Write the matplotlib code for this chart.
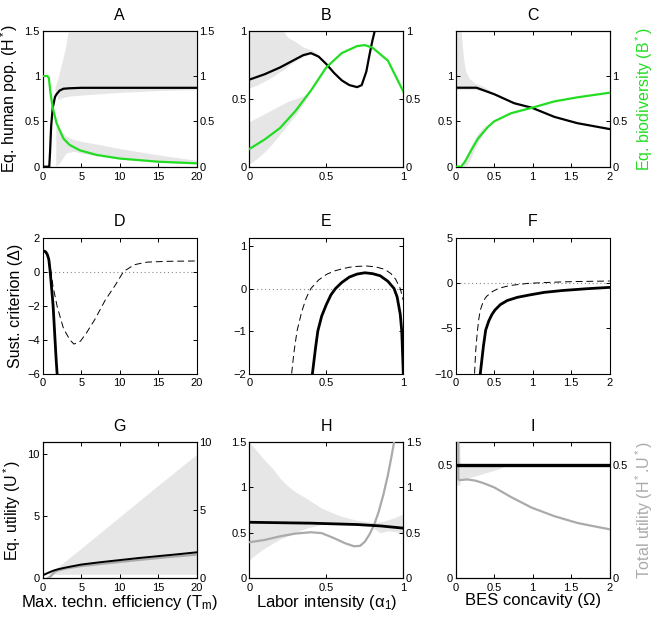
import matplotlib
matplotlib.use("Agg")
import matplotlib.pyplot as plt

plt.rcParams['font.family'] = ['Liberation Sans', 'DejaVu Sans']
plt.rcParams['mathtext.fontset'] = 'custom'
plt.rcParams['mathtext.rm'] = 'Liberation Sans'
plt.rcParams['mathtext.it'] = 'Liberation Sans:italic'

GREEN = '#22dd22'
GREYL = '#aaaaaa'
FILL = '#e6e6e6'

# ---------------- Panel A ----------------
A_H_x = [0, 0.5, 0.85, 0.95, 1.1, 1.3, 1.6, 1.8, 2.2, 2.7, 3.5, 5, 10, 15, 20]
A_H_y = [0, 0, 0, 0.15, 0.45, 0.65, 0.77, 0.8, 0.84, 0.86, 0.865, 0.87, 0.87, 0.87, 0.87]
A_B_x = [0, 0.6, 0.8, 1.0, 1.3, 1.8, 2.7, 3.5, 4.85, 7, 10, 15, 20]
A_B_y = [1, 1, 0.98, 0.82, 0.65, 0.48, 0.31, 0.24, 0.18, 0.13, 0.09, 0.055, 0.037]
A_bandH_x = [1.6, 2.0, 2.5, 3.0, 3.5, 5, 10, 15, 20]
A_bandH_lo = [0.85, 0.74, 0.76, 0.77, 0.78, 0.79, 0.82, 0.84, 0.85]
A_bandH_hi = [0.88, 0.98, 1.15, 1.33, 1.6, 1.6, 1.6, 1.6, 1.6]
A_bandB_x = [1.7, 2.0, 2.5, 3.0, 4.0, 5.0, 7.0, 10.0, 15.0, 20.0]
A_bandB_lo = [0.0, 0.02, 0.08, 0.15, 0.17, 0.15, 0.12, 0.085, 0.05, 0.035]
A_bandB_hi = [0.45, 0.42, 0.38, 0.34, 0.3, 0.28, 0.25, 0.2, 0.13, 0.07]

# ---------------- Panel B ----------------
B_H_x = [0, 0.1, 0.2, 0.3, 0.35, 0.4, 0.45, 0.5, 0.55, 0.6, 0.65, 0.7, 0.73, 0.76, 0.78, 0.8, 0.815, 0.83]
B_H_y = [0.64, 0.68, 0.73, 0.79, 0.82, 0.835, 0.81, 0.755, 0.69, 0.635, 0.6, 0.585, 0.6, 0.7, 0.82, 0.93, 1.0, 1.07]
B_B_x = [0, 0.1, 0.2, 0.3, 0.4, 0.5, 0.6, 0.7, 0.75, 0.8, 0.9, 1.0]
B_B_y = [0.13, 0.2, 0.285, 0.41, 0.56, 0.73, 0.835, 0.887, 0.894, 0.875, 0.78, 0.553]
B_bandH_x = [0, 0.05, 0.1, 0.15, 0.2, 0.22, 0.25, 0.3, 0.35, 0.4, 0.45]
B_bandH_lo = [0.58, 0.6, 0.63, 0.66, 0.7, 0.71, 0.74, 0.78, 0.81, 0.83, 0.83]
B_bandH_hi = [1.0, 1.0, 1.0, 1.0, 1.0, 1.0, 0.95, 0.92, 0.88, 0.86, 0.83]
B_bandB_x = [0, 0.05, 0.1, 0.15, 0.2, 0.25, 0.3, 0.35, 0.38]
B_bandB_lo = [0.02, 0.06, 0.11, 0.17, 0.24, 0.31, 0.38, 0.46, 0.52]
B_bandB_hi = [0.33, 0.36, 0.39, 0.42, 0.45, 0.48, 0.5, 0.52, 0.54]

# ---------------- Panel C ----------------
C_H_x = [0, 0.27, 0.5, 0.76, 0.99, 1.28, 1.58, 2.0]
C_H_y = [0.871, 0.871, 0.80, 0.70, 0.65, 0.55, 0.48, 0.415]
C_B_x = [0, 0.07, 0.12, 0.2, 0.29, 0.42, 0.5, 0.72, 0.99, 1.28, 1.58, 2.0]
C_B_y = [0, 0, 0.055, 0.18, 0.31, 0.44, 0.5, 0.59, 0.65, 0.72, 0.765, 0.816]
C_bandH_x = [0, 0.07, 0.1, 0.13, 0.18, 0.25, 0.35, 0.45]
C_bandH_lo = [0.85, 0.85, 0.85, 0.85, 0.85, 0.85, 0.84, 0.82]
C_bandH_hi = [1.5, 1.5, 1.2, 1.05, 0.97, 0.92, 0.89, 0.84]
C_bandB_x = [0.1, 0.15, 0.2, 0.25, 0.3, 0.35, 0.4]
C_bandB_lo = [0, 0.02, 0.1, 0.2, 0.28, 0.36, 0.42]
C_bandB_hi = [0.05, 0.13, 0.23, 0.31, 0.38, 0.43, 0.46]

# ---------------- Panel D ----------------
D_s_x = [0, 0.2, 0.4, 0.6, 0.8, 0.97, 1.2, 1.35, 1.6, 1.75, 1.9]
D_s_y = [1.2, 1.2, 1.15, 1.0, 0.7, 0.0, -1.2, -2.0, -4.0, -5.2, -6.2]
D_d_x = [0, 0.4, 0.8, 1.0, 1.35, 1.9, 2.7, 3.5, 4.05, 4.9, 5.7, 6.8, 8.1, 9.5, 10.5, 11.9, 13.5, 16.2, 20]
D_d_y = [1.2, 1.15, 0.7, 0.2, -0.9, -2.1, -3.35, -4.0, -4.27, -4.1, -3.6, -2.8, -1.7, -0.75, 0, 0.4, 0.55, 0.6, 0.62]

# ---------------- Panel E ----------------
E_s_x = [0.41, 0.43, 0.445, 0.47, 0.5, 0.53, 0.56, 0.6, 0.65, 0.7, 0.75, 0.8, 0.85, 0.9, 0.94, 0.96, 0.98, 0.99, 1.0]
E_s_y = [-2, -1.4, -1.0, -0.65, -0.38, -0.15, 0.0, 0.14, 0.27, 0.34, 0.37, 0.35, 0.3, 0.17, 0.0, -0.2, -0.6, -1.0, -2.0]
E_d_x = [0.275, 0.29, 0.31, 0.34, 0.37, 0.4, 0.45, 0.5, 0.55, 0.6, 0.65, 0.7, 0.76, 0.82, 0.88, 0.92, 0.95, 0.98, 1.0]
E_d_y = [-2, -1.5, -1.0, -0.55, -0.22, 0.0, 0.2, 0.33, 0.41, 0.46, 0.5, 0.52, 0.53, 0.51, 0.45, 0.35, 0.22, 0.0, -0.28]

# ---------------- Panel F ----------------
F_s_x = [0.32, 0.34, 0.36, 0.39, 0.43, 0.47, 0.51, 0.58, 0.67, 0.8, 0.95, 1.15, 1.38, 1.7, 2.0]
F_s_y = [-10, -8.5, -7.0, -5.2, -4.2, -3.5, -3.0, -2.4, -1.95, -1.6, -1.35, -1.05, -0.85, -0.65, -0.5]
F_d_x = [0.245, 0.26, 0.28, 0.3, 0.32, 0.36, 0.4, 0.48, 0.56, 0.7, 0.95, 1.3, 1.6, 2.0]
F_d_y = [-10, -7.5, -5.5, -4.0, -3.0, -2.0, -1.5, -0.95, -0.6, -0.3, -0.05, 0.08, 0.15, 0.2]

# ---------------- Panel G ----------------
G_U_x = [0, 0.5, 1, 1.5, 2, 3, 5, 7.5, 10, 12.5, 15, 17.5, 20]
G_U_y = [0.22, 0.36, 0.5, 0.62, 0.71, 0.85, 1.09, 1.28, 1.45, 1.62, 1.77, 1.92, 2.08]
G_T_x = [0.7, 1.0, 1.3, 1.6, 2, 3, 5, 7.5, 10, 12.5, 15, 17.5, 20]
G_T_y = [0, 0.1, 0.3, 0.45, 0.56, 0.7, 0.88, 1.03, 1.18, 1.33, 1.47, 1.6, 1.72]
G_band_x = [0.8, 2, 5, 10, 15, 20]
G_band_lo = [0.3, 0.3, 0.3, 0.3, 0.3, 0.3]
G_band_hi = [0.5, 0.9, 2.4, 4.95, 7.5, 10.0]

# ---------------- Panel H ----------------
H_U_x = [0, 0.2, 0.4, 0.5, 0.7, 0.85, 1.0]
H_U_y = [0.615, 0.61, 0.605, 0.6, 0.59, 0.575, 0.55]
H_T_x = [0, 0.1, 0.2, 0.3, 0.4, 0.47, 0.55, 0.62, 0.68, 0.72, 0.75, 0.78, 0.81, 0.84, 0.87, 0.9, 0.925, 0.94]
H_T_y = [0.395, 0.42, 0.46, 0.49, 0.505, 0.495, 0.44, 0.385, 0.35, 0.355, 0.40, 0.48, 0.585, 0.73, 0.915, 1.135, 1.355, 1.5]
H_band_x = [0, 0.05, 0.1, 0.15, 0.2, 0.26, 0.3, 0.37, 0.47, 0.58, 0.69, 0.79, 0.85, 0.9, 0.95, 1.0]
H_band_lo = [0.2, 0.27, 0.33, 0.38, 0.43, 0.47, 0.5, 0.55, 0.59, 0.59, 0.58, 0.57, 0.5, 0.52, 0.51, 0.5]
H_band_hi = [1.5, 1.4, 1.3, 1.21, 1.1, 1.0, 0.95, 0.88, 0.77, 0.69, 0.64, 0.615, 0.62, 0.64, 0.67, 0.71]

# ---------------- Panel I ----------------
I_U_x = [0, 2]
I_U_y = [0.5, 0.5]
I_T_x = [0.034, 0.034, 0.06, 0.15, 0.25, 0.35, 0.5, 0.72, 0.99, 1.28, 1.58, 1.8, 2.0]
I_T_y = [0.6, 0.435, 0.432, 0.435, 0.43, 0.42, 0.40, 0.357, 0.31, 0.273, 0.243, 0.228, 0.215]
I_band_x = [0, 0.05, 0.06, 0.15, 0.3, 0.5, 0.7]
I_band_lo = [0.41, 0.41, 0.43, 0.44, 0.455, 0.475, 0.5]
I_band_hi = [0.6, 0.6, 0.5, 0.5, 0.5, 0.5, 0.5]

fig = plt.figure(figsize=(6.63, 6.19), dpi=100)

W, Hh = 0.2323, 0.2197
lefts = [0.0644, 0.376, 0.6873]
bottoms = [0.7307, 0.3966, 0.0662]

TICK = 8
YLAB = 11.5
XLAB = 12
TIT = 11.5


def style(ax, right=True, top=True):
    ax.tick_params(direction='in', length=3, width=0.7, labelsize=TICK, pad=2,
                   top=top, right=right)
    ax.tick_params(axis='x', pad=3.5)
    for s in ax.spines.values():
        s.set_linewidth(0.8)


def make(row, col):
    ax = fig.add_axes([lefts[col], bottoms[row], W, Hh])
    return ax


titles = [['A', 'B', 'C'], ['D', 'E', 'F'], ['G', 'H', 'I']]

# Row 1
axA = make(0, 0)
axB = make(0, 1)
axC = make(0, 2)
row1 = [
    (axA, A_H_x, A_H_y, A_B_x, A_B_y, (A_bandH_x, A_bandH_lo, A_bandH_hi),
     (A_bandB_x, A_bandB_lo, A_bandB_hi), (0, 20), [0, 5, 10, 15, 20], (0, 1.5), [0, 0.5, 1, 1.5]),
    (axB, B_H_x, B_H_y, B_B_x, B_B_y, (B_bandH_x, B_bandH_lo, B_bandH_hi),
     (B_bandB_x, B_bandB_lo, B_bandB_hi), (0, 1), [0, 0.5, 1], (0, 1), [0, 0.5, 1]),
    (axC, C_H_x, C_H_y, C_B_x, C_B_y, (C_bandH_x, C_bandH_lo, C_bandH_hi),
     (C_bandB_x, C_bandB_lo, C_bandB_hi), (0, 2), [0, 0.5, 1, 1.5, 2], (0, 1.5), [0, 0.5, 1]),
]
for i, (ax, hx, hy, bx, by, bh, bb, xl, xt, yl, yt) in enumerate(row1):
    ax.fill_between(bh[0], bh[1], bh[2], color=FILL, lw=0, zorder=3 if i == 0 else 1)
    ax.fill_between(bb[0], bb[1], bb[2], color=FILL, lw=0, zorder=1)
    ax.plot(hx, hy, color='black', lw=1.6, zorder=4)
    ax.set_xlim(*xl); ax.set_ylim(*yl)
    ax.set_xticks(xt); ax.set_yticks(yt)
    ax.set_xticklabels([f'{v:g}' for v in xt])
    ax.set_yticklabels([f'{v:g}' for v in yt])
    style(ax, right=False)
    ax2 = ax.twinx()
    ax2.plot(bx, by, color=GREEN, lw=1.6, zorder=4)
    ax2.set_ylim(*yl); ax2.set_yticks(yt)
    ax2.set_yticklabels([f'{v:g}' for v in yt])
    ax2.tick_params(direction='in', length=3, width=0.7, labelsize=TICK, pad=2)
    for s in ax2.spines.values():
        s.set_linewidth(0.8)
    ax.set_title(titles[0][i], fontsize=TIT, pad=8)
    if i == 0:
        ax.set_ylabel('Eq. human pop. (H$^*$)', fontsize=YLAB, labelpad=3)
    if i == 2:
        ax2.set_ylabel('Eq. biodiversity (B$^*$)', fontsize=YLAB, color=GREEN, labelpad=4)

# Row 2
axD = make(1, 0)
axE = make(1, 1)
axF = make(1, 2)
row2 = [
    (axD, D_s_x, D_s_y, D_d_x, D_d_y, (0, 20), [0, 5, 10, 15, 20], (-6, 2), [-6, -4, -2, 0, 2]),
    (axE, E_s_x, E_s_y, E_d_x, E_d_y, (0, 1), [0, 0.5, 1], (-2, 1.2), [-2, -1, 0, 1]),
    (axF, F_s_x, F_s_y, F_d_x, F_d_y, (0, 2), [0, 0.5, 1, 1.5, 2], (-10, 5), [-10, -5, 0, 5]),
]
for i, (ax, sx, sy, dx, dy, xl, xt, yl, yt) in enumerate(row2):
    ax.axhline(0, color='#888888', lw=0.8, ls=(0, (1, 2.5)), zorder=1)
    ax.plot(dx, dy, color='black', lw=0.7, ls=(0, (7, 4)), zorder=3)
    ax.plot(sx, sy, color='black', lw=2.0, zorder=4)
    ax.set_xlim(*xl); ax.set_ylim(*yl)
    ax.set_xticks(xt); ax.set_yticks(yt)
    ax.set_xticklabels([f'{v:g}' for v in xt])
    ax.set_yticklabels([f'{v:g}'.replace('-', '\u2212') for v in yt])
    style(ax)
    ax.set_title(titles[1][i], fontsize=TIT, pad=8)
    if i == 0:
        ax.set_ylabel('Sust. criterion (\u0394)', fontsize=YLAB, labelpad=3)

# Row 3
axG = make(2, 0)
axH = make(2, 1)
axI = make(2, 2)
row3 = [
    (axG, G_U_x, G_U_y, G_T_x, G_T_y, (G_band_x, G_band_lo, G_band_hi), (0, 20), [0, 5, 10, 15, 20],
     (0, 11), [0, 5, 10], (0, 10), [0, 5, 10], 1.4),
    (axH, H_U_x, H_U_y, H_T_x, H_T_y, (H_band_x, H_band_lo, H_band_hi), (0, 1), [0, 0.5, 1],
     (0, 1.5), [0, 0.5, 1, 1.5], (0, 1.5), [0, 0.5, 1, 1.5], 2.0),
    (axI, I_U_x, I_U_y, I_T_x, I_T_y, (I_band_x, I_band_lo, I_band_hi), (0, 2), [0, 0.5, 1, 1.5, 2],
     (0, 0.6), [0, 0.5], (0, 0.6), [0, 0.5], 2.4),
]
xlabels = ['Max. techn. efficiency (T$_\\mathrm{m}$)', 'Labor intensity (\u03b1$_1$)', 'BES concavity (\u03a9)']
for i, (ax, ux, uy, tx, ty, band, xl, xt, yl, yt, yl2, yt2, lw) in enumerate(row3):
    ax.fill_between(band[0], band[1], band[2], color=FILL, lw=0, zorder=1)
    ax.set_xlim(*xl); ax.set_ylim(*yl)
    ax.set_xticks(xt); ax.set_yticks(yt)
    ax.set_xticklabels([f'{v:g}' for v in xt])
    ax.set_yticklabels([f'{v:g}' for v in yt])
    style(ax, right=False)
    ax2 = ax.twinx()
    ax2.plot(tx, ty, color=GREYL, lw=1.6, zorder=3)
    ax2.set_ylim(*yl2); ax2.set_yticks(yt2)
    ax2.set_yticklabels([f'{v:g}' for v in yt2])
    ax2.tick_params(direction='in', length=3, width=0.7, labelsize=TICK, pad=2)
    for s in ax2.spines.values():
        s.set_linewidth(0.8)
    ax3 = ax.twinx()
    ax3.set_ylim(*yl)
    ax3.axis('off')
    ax3.plot(ux, uy, color='black', lw=lw, zorder=4)
    ax.set_title(titles[2][i], fontsize=TIT, pad=8)
    ax.set_xlabel(xlabels[i], fontsize=XLAB, labelpad=0)
    if i == 0:
        ax.set_ylabel('Eq. utility (U$^*$)', fontsize=YLAB, labelpad=3)
    if i == 2:
        ax2.set_ylabel('Total utility (H$^*$.U$^*$)', fontsize=YLAB, color=GREYL, labelpad=4)

fig.savefig('out.png', dpi=100)
